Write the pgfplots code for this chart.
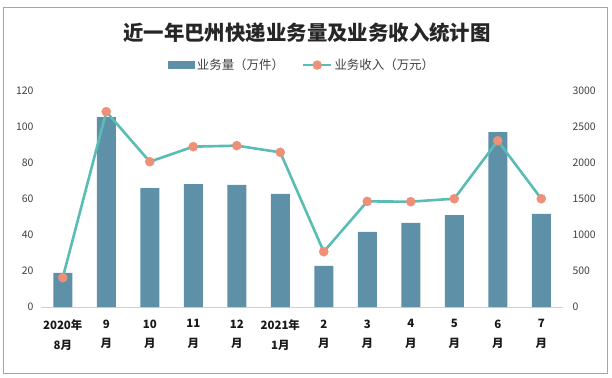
\documentclass[border=0pt]{standalone}
\usepackage{pgfplots}
\pgfplotsset{compat=1.18}
\usepackage{fontspec}
\setmainfont{Noto Sans CJK SC}
\definecolor{barc}{HTML}{5E90A8}
\definecolor{linec}{HTML}{5ABDB5}
\definecolor{markc}{HTML}{EE8F77}
\definecolor{txt}{HTML}{404040}
\begin{document}
\begin{tikzpicture}[x=1bp,y=1bp]
\path (0,0) rectangle (612,377);
\draw[black!35, line width=0.8bp] (3,4) rectangle (607,370);
\node[font=\fontsize{20.5}{24}\selectfont\bfseries, text=black!85] at (307,344) {近一年巴州快递业务量及业务收入统计图};
\begin{axis}[
  at={(41bp,70bp)}, anchor=south west, scale only axis,
  width=522bp, height=216bp,
  xmin=-0.5, xmax=11.5, ymin=0, ymax=120,
  ytick={0,20,...,120},
  xtick={0,...,11},
  xticklabels={{2020年\\[7bp]8月},{9\\[7bp]月},{10\\[7bp]月},{11\\[7bp]月},{12\\[7bp]月},{2021年\\[7bp]1月},{2\\[7bp]月},{3\\[7bp]月},{4\\[7bp]月},{5\\[7bp]月},{6\\[7bp]月},{7\\[7bp]月}},
  xticklabel style={align=center, font=\fontsize{11.5}{13}\selectfont\bfseries, text=black!90, anchor=north, yshift=-9bp},
  yticklabel style={font=\fontsize{10.5}{12}\selectfont, text=txt, xshift=-4bp},
  /pgf/number format/assume math mode=true,
  major tick length=0pt,
  axis x line*=bottom,
  axis y line*=left,
  y axis line style={draw=none},
  x axis line style={draw=black!18, line width=0.8bp, -},
  legend style={at={(0.5,1.12)}, anchor=center, draw=none, fill=none, legend columns=2,
    font=\fontsize{12.5}{14}\selectfont, text=txt, /tikz/every even column/.append style={column sep=16bp}},
]
\addplot[ybar, bar width=19bp, fill=barc, draw=none, legend image code/.code={\fill[barc] (0bp,-4bp) rectangle (27bp,4bp);}]
  coordinates {(0,18.9) (1,105.5) (2,66.1) (3,68.3) (4,67.8) (5,62.8) (6,22.8) (7,41.7) (8,46.7) (9,51.1) (10,97.2) (11,51.7)};
\addlegendentry{业务量（万件）}
\addlegendimage{legend image code/.code={\draw[linec, line width=2.5bp] (0bp,0bp) -- (28bp,0bp); \fill[markc] (14bp,0bp) circle (4.5bp);}}
\addlegendentry{业务收入（万元）}
\end{axis}
\begin{axis}[
  at={(41bp,70bp)}, anchor=south west, scale only axis,
  width=522bp, height=216bp,
  xmin=-0.5, xmax=11.5, ymin=0, ymax=3000,
  ytick={0,500,...,3000},
  axis x line=none,
  axis y line*=right,
  y axis line style={draw=none},
  major tick length=0pt,
  yticklabel style={font=\fontsize{10.5}{12}\selectfont, text=txt, xshift=6bp, /pgf/number format/1000 sep={}},
  /pgf/number format/assume math mode=true,
]
\addplot[linec, line width=2.6bp, mark=*, mark size=4.6bp, mark options={fill=markc, draw=markc, line width=0.3bp}]
  coordinates {(0,407) (1,2713) (2,2018) (3,2227) (4,2241) (5,2148) (6,768) (7,1467) (8,1463) (9,1504) (10,2310) (11,1504)};
\end{axis}
\end{tikzpicture}
\end{document}
